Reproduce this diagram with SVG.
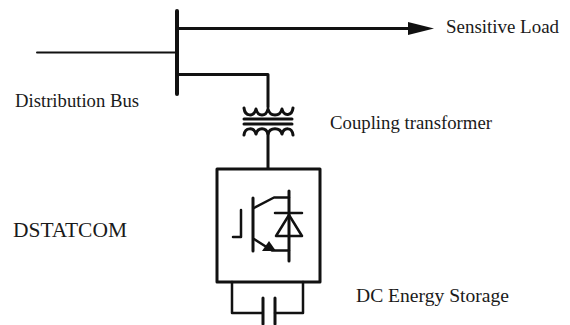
<svg xmlns="http://www.w3.org/2000/svg" width="570" height="325" viewBox="0 0 570 325">
<style>
.l{fill:none;stroke:#111;stroke-linecap:round;stroke-linejoin:round}
.t{font-family:"Liberation Serif",serif;fill:#1a1a1a;font-size:18px}
</style>
<rect width="570" height="325" fill="#fff"/>
<g id="connectors">
<path class="l" stroke-width="2" d="M37 52.500H176"/>
<path class="l" stroke-width="4" d="M177 11V94"/>
<path class="l" stroke-width="3" d="M177 28.500H410"/>
<path fill="#111" d="M408 22L434 28.500L408 35Z"/>
<path class="l" stroke-width="3" d="M177 74.500H268V107"/>
<path class="l" stroke-width="3" d="M268 133V168"/>
<path class="l" stroke-width="2.500" d="M232 282V313H262M303 282V313H275"/>
</g>
<g id="transformer">
<path class="l" stroke-width="3" d="M244 108C245 117 254 117 256 109C258 117 266 117 268 109C270 117 280 117 282 109C284 117 292 116 293 108"/>
<path class="l" stroke-width="3" d="M244 119H292M244 124H292"/>
<path class="l" stroke-width="3" d="M244 135C245 127 254 127 256 134C258 127 266 127 268 134C270 127 280 127 282 134C284 127 292 127 293 135"/>
</g>
<g id="dstatcom">
<rect class="l" x="217" y="169" width="103" height="113" stroke-width="3"/>
<path class="l" stroke-width="2.500" d="M241 210V237H233"/>
<path class="l" stroke-width="3" d="M253 198V251"/>
<path class="l" stroke-width="2.500" d="M254 208L274 197.500H289M254 239L272 250.500H289"/>
<path fill="#111" d="M262 251L269 241L276 251Z"/>
<path class="l" stroke-width="3" d="M289 191V261"/>
<path class="l" stroke-width="2.500" d="M275 213H302"/>
<path class="l" stroke-width="2.500" fill="#fff" d="M289 215L276 236H302Z"/>
</g>
<g id="capacitor">
<path class="l" stroke-width="3" d="M263 298V324M275 298V324"/>
</g>
<g id="labels">
<text class="t" x="446" y="33" textLength="113" lengthAdjust="spacingAndGlyphs">Sensitive Load</text>
<text class="t" x="15" y="107" textLength="124" lengthAdjust="spacingAndGlyphs">Distribution Bus</text>
<text class="t" x="330" y="129" textLength="162" lengthAdjust="spacingAndGlyphs">Coupling transformer</text>
<text class="t" x="13" y="237" style="font-size:20px" textLength="114" lengthAdjust="spacingAndGlyphs">DSTATCOM</text>
<text class="t" x="356" y="302" textLength="153" lengthAdjust="spacingAndGlyphs">DC Energy Storage</text>
</g>
</svg>
